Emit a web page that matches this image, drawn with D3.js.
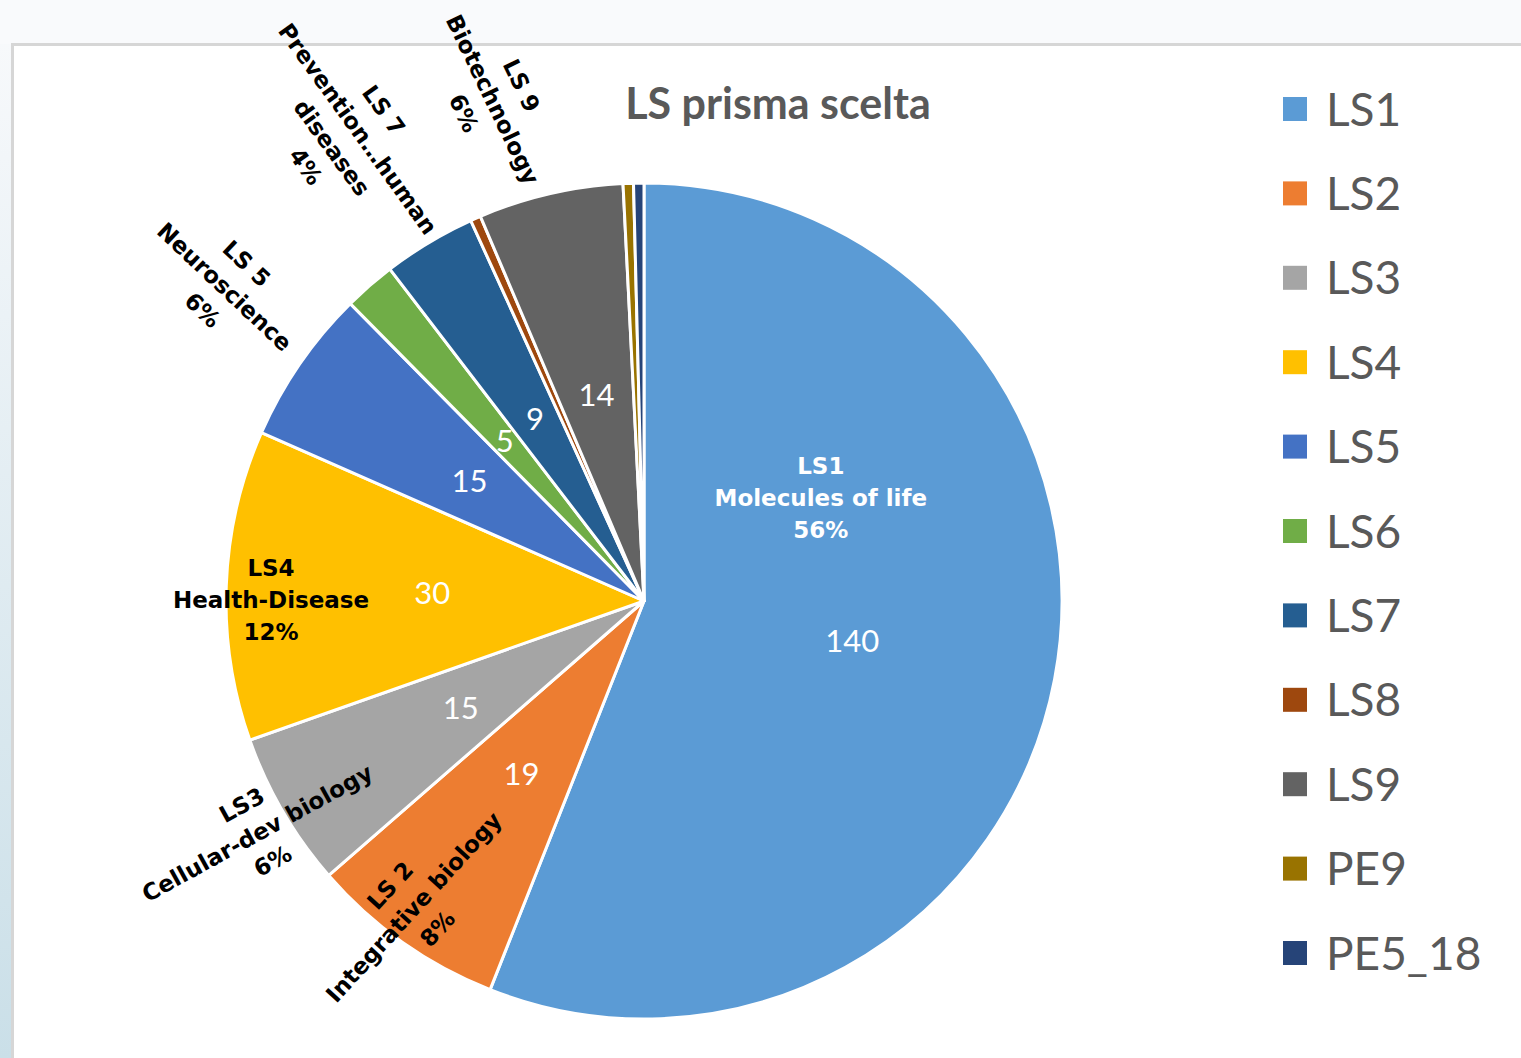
<!DOCTYPE html>
<html>
<head>
<meta charset="utf-8">
<script src="https://cdn.jsdelivr.net/npm/d3@7"></script>
<style>
  body { margin: 0; overflow: hidden; }
  svg { display: block; }
</style>
</head>
<body>
<svg width="1521" height="1058"></svg>
<script>
// categories and values
const categories = ["LS1", "LS2", "LS3", "LS4", "LS5", "LS6", "LS7", "LS8", "LS9", "PE9", "PE5_18"];
const values = [140, 19, 15, 30, 15, 5, 9, 1, 14, 1, 1];
const colors = ["#5B9BD5", "#ED7D31", "#A5A5A5", "#FFC000", "#4472C4", "#70AD47",
                "#255E91", "#9E480E", "#636363", "#997300", "#264478"];

// category label texts (lines), null where none is shown
const labelLines = [
  ["LS1", "Molecules of life", "56%"],
  ["LS 2", "Integrative biology", "8%"],
  ["LS3", "Cellular-dev biology", "6%"],
  ["LS4", "Health-Disease", "12%"],
  ["LS 5", "Neuroscience", "6%"],
  null,
  ["LS 7", "Prevention…human", "diseases", "4%"],
  null,
  ["LS 9", "Biotechnology", "6%"],
  null,
  null
];
// values whose number label is drawn
const shownValues = [true, true, true, true, true, true, true, false, true, false, false];

// layout for the category labels: radius, angle nudge (deg), rotation (deg), colour
const labelLayout = [
  { r: 205, nudge: -41.2, rot: 0, fill: "#fff" },
  { r: 383, nudge: 1.7, rot: -47.6, fill: "#000" },
  { r: 451, nudge: -0.7, rot: -28.9, fill: "#000" },
  { r: 373, nudge: -1.9, rot: 0, fill: "#000" },
  { r: 524, nudge: 2.3, rot: 43.3, fill: "#000" },
  null,
  { r: 551, nudge: -1.9, rot: 54.2, fill: "#000" },
  null,
  { r: 524, nudge: -3.8, rot: 64.3, fill: "#000" },
  null,
  null
];

const svg = d3.select("svg");
const width = +svg.attr("width"), height = +svg.attr("height");

// background frame
const defs = svg.append("defs");
const grad = defs.append("linearGradient").attr("id", "bg")
    .attr("x1", 0).attr("y1", 0).attr("x2", 0).attr("y2", 1);
grad.append("stop").attr("offset", "0%").attr("stop-color", "#f9fafc");
grad.append("stop").attr("offset", "100%").attr("stop-color", "#cadfe8");
svg.append("rect").attr("width", width).attr("height", height).attr("fill", "url(#bg)");
svg.append("rect").attr("x", 0).attr("y", 0).attr("width", width).attr("height", 44).attr("fill", "#f9fafc");
svg.append("rect")
    .attr("x", 12.5).attr("y", 44.5)
    .attr("width", width).attr("height", height)
    .attr("fill", "#fff")
    .attr("stroke", "#d6d6d6")
    .attr("stroke-width", 3);

// title
svg.append("text")
    .attr("x", 778).attr("y", 119)
    .attr("text-anchor", "middle")
    .attr("font-family", "Lato, 'Open Sans', sans-serif")
    .attr("font-weight", "bold")
    .attr("font-size", 43)
    .attr("fill", "#595959")
    .text("LS prisma scelta");

// pie
const cx = 644, cy = 601, radius = 418;
const pie = d3.pie().sort(null).value(d => d.value);
const data = categories.map((c, i) => ({ name: c, value: values[i], i: i }));
const arcs = pie(data);
const arc = d3.arc().innerRadius(0).outerRadius(radius);

const g = svg.append("g").attr("transform", `translate(${cx},${cy})`);

g.selectAll("path.slice")
    .data(arcs)
    .enter().append("path")
    .attr("class", "slice")
    .attr("d", arc)
    .attr("fill", d => colors[d.data.i])
    .attr("stroke", "#fff")
    .attr("stroke-width", 3)
    .attr("stroke-linejoin", "round");

// value labels
const valueArc = d3.arc().innerRadius(212).outerRadius(212);
g.selectAll("text.value")
    .data(arcs.filter(d => shownValues[d.data.i]))
    .enter().append("text")
    .attr("class", "value")
    .attr("transform", d => `translate(${valueArc.centroid(d)})`)
    .attr("text-anchor", "middle")
    .attr("dy", "0.36em")
    .attr("font-family", "Lato, 'Open Sans', sans-serif")
    .attr("font-size", 31)
    .attr("fill", "#fff")
    .text(d => d.value);

// category labels
const lineH = 32;
const catLabels = g.selectAll("g.cat")
    .data(arcs.filter(d => labelLines[d.data.i]))
    .enter().append("g")
    .attr("class", "cat")
    .attr("transform", d => {
        const L = labelLayout[d.data.i];
        const a = (d.startAngle + d.endAngle) / 2 + L.nudge * Math.PI / 180;
        const x = L.r * Math.sin(a), y = -L.r * Math.cos(a);
        return `translate(${x},${y}) rotate(${L.rot})`;
    });

catLabels.each(function (d) {
    const lines = labelLines[d.data.i];
    const L = labelLayout[d.data.i];
    const t = d3.select(this).append("text")
        .attr("text-anchor", "middle")
        .attr("font-family", "'DejaVu Sans', sans-serif")
        .attr("font-weight", "bold")
        .attr("font-size", 23)
        .attr("fill", L.fill);
    lines.forEach((s, k) => {
        t.append("tspan")
            .attr("x", 0)
            .attr("y", (k - (lines.length - 1) / 2) * lineH)
            .attr("dy", "0.36em")
            .text(s);
    });
});

// legend
const legendY = d3.scalePoint().domain(categories).range([109, 953]);
const legend = svg.append("g").selectAll("g")
    .data(categories)
    .enter().append("g")
    .attr("transform", d => `translate(1283,${legendY(d)})`);
legend.append("rect")
    .attr("x", 0).attr("y", -12)
    .attr("width", 24).attr("height", 24)
    .attr("fill", (d, i) => colors[i]);
legend.append("text")
    .attr("x", 43).attr("y", 0)
    .attr("dy", "0.36em")
    .attr("font-family", "Lato, 'Open Sans', sans-serif")
    .attr("font-size", 46)
    .attr("fill", "#595959")
    .text(d => d);
</script>
</body>
</html>
